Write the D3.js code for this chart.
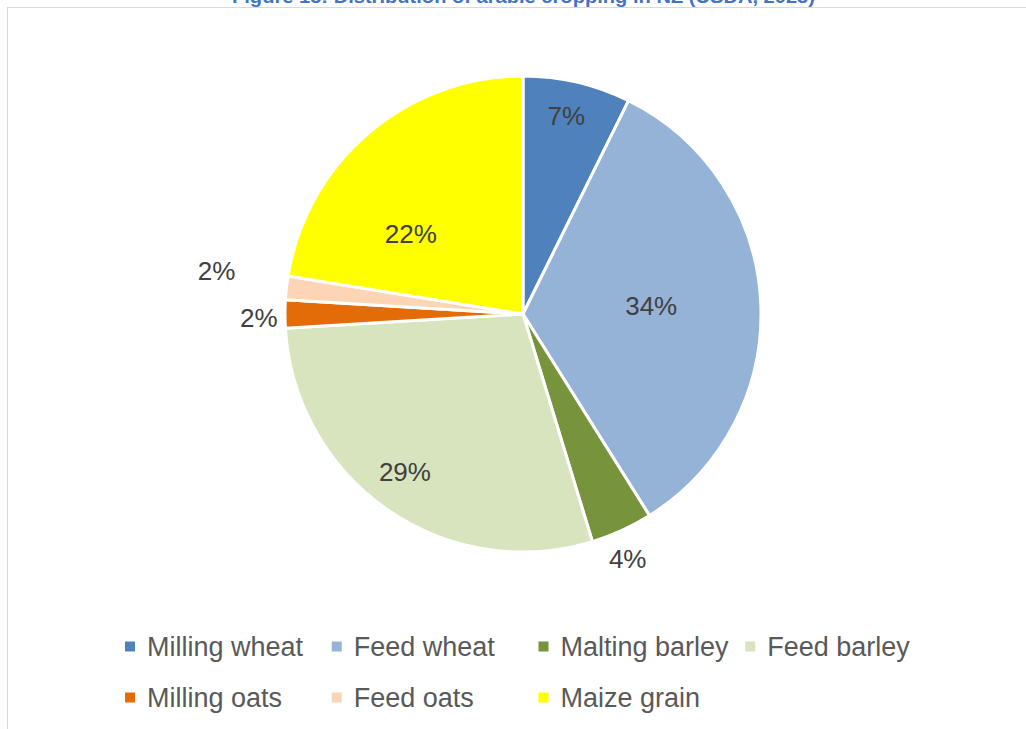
<!DOCTYPE html>
<html>
<head>
<meta charset="UTF-8">
<title>Distribution of arable cropping in NZ</title>
<style>
  body { margin: 0; background: #fff; }
  svg text { font-family: "Liberation Sans", Arial, sans-serif; }
</style>
</head>
<body>
<svg></svg>
<script src="https://d3js.org/d3.v7.min.js"></script>
<script>

// data (share of arable area, %)
const crops = ["Milling wheat", "Feed wheat", "Malting barley", "Feed barley", "Milling oats", "Feed oats", "Maize grain"];
const shares = [7.3, 33.7, 4.2, 28.7, 1.9, 1.6, 22.4];
const colors = ["#4f81bd", "#95b3d7", "#77933c", "#d7e4bd", "#e36c09", "#fcd5b5", "#ffff00"];
const title = "Figure 13: Distribution of arable cropping in NZ (USDA, 2023)";

// where each % label sits: radius factor and small angle nudge (deg)
const labelRadius = [0.85, 0.54, 1.12, 0.83, 1.11, 1.30, 0.58];
const labelNudge = [-0.8, -0.9, 1.4, 1.9, -0.8, 1.7, -14];

let width = 1026, height = 729;
let cx = 523, cy = 314, radius = 238;

let svg = d3.select("svg")
    .attr("width", width)
    .attr("height", height);

// chart frame (runs off the page at right and bottom)
svg.append("rect")
    .attr("x", 7.5).attr("y", 7.5)
    .attr("width", 1040).attr("height", 740)
    .attr("fill", "none")
    .attr("stroke", "#d9d9d9")
    .attr("stroke-width", 1);

// title, mostly cut off at the top edge (as in the source page)
svg.append("text")
    .attr("x", 523.5).attr("y", 3)
    .attr("text-anchor", "middle")
    .attr("fill", "#4472c4")
    .style("font-weight", "bold")
    .style("font-size", "19px")
    .attr("textLength", 583)
    .attr("lengthAdjust", "spacingAndGlyphs")
    .text(title);

let total = d3.sum(shares);
let rows = crops.map((c, i) => ({ name: c, value: shares[i], i: i }));

let pie = d3.pie().value(d => d.value).sort(null);
let arc = d3.arc().innerRadius(0).outerRadius(radius);
let arcs = pie(rows);

let g = svg.append("g").attr("transform", `translate(${cx},${cy})`);

g.selectAll("path")
    .data(arcs)
    .enter()
    .append("path")
    .attr("d", arc)
    .attr("fill", d => colors[d.data.i])
    .attr("stroke", "#fff")
    .attr("stroke-width", 3)
    .attr("stroke-linejoin", "round");

// percentage labels
function labelPos(d) {
    let a = (d.startAngle + d.endAngle) / 2 + labelNudge[d.data.i] * Math.PI / 180;
    let r = radius * labelRadius[d.data.i];
    return [Math.sin(a) * r, -Math.cos(a) * r];
}

g.selectAll("text.pct")
    .data(arcs)
    .enter()
    .append("text")
    .attr("class", "pct")
    .attr("x", d => labelPos(d)[0])
    .attr("y", d => labelPos(d)[1])
    .attr("text-anchor", "middle")
    .attr("dominant-baseline", "central")
    .attr("fill", "#404040")
    .style("font-size", "26px")
    .text(d => Math.round(d.data.value / total * 100) + "%");

// legend, 4 per row
let legendX = d3.scaleBand().domain(d3.range(4)).range([125, 952]);
let legendY = d3.scaleBand().domain(d3.range(2)).range([621, 723]);

let item = svg.append("g")
    .selectAll("g")
    .data(rows)
    .enter()
    .append("g")
    .attr("transform", d => `translate(${legendX(d.i % 4)},${legendY(Math.floor(d.i / 4)) + legendY.bandwidth() / 2})`);

item.append("rect")
    .attr("x", 0).attr("y", -5)
    .attr("width", 10).attr("height", 10)
    .attr("fill", d => colors[d.i]);

item.append("text")
    .attr("x", 22)
    .attr("y", 0)
    .attr("dominant-baseline", "central")
    .attr("fill", "#595959")
    .style("font-size", "27px")
    .text(d => d.name);

</script>
</body>
</html>
